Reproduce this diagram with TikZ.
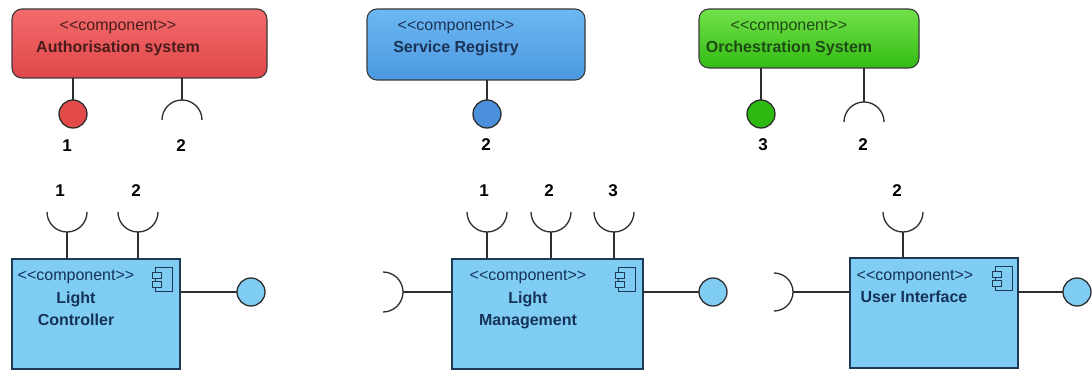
\documentclass[tikz,border=0pt]{standalone}
\usepackage{fontspec}
\setmainfont{Liberation Sans}
\definecolor{wirec}{HTML}{2E2E2E}
\definecolor{tborder}{HTML}{3A3A3A}
\definecolor{cborder}{HTML}{1F3A57}
\definecolor{cfill}{HTML}{7FCDF2}
\definecolor{ctext}{HTML}{16325A}
\definecolor{redtop}{HTML}{F36B6B}
\definecolor{redbot}{HTML}{E0474A}
\definecolor{redball}{HTML}{E34B4B}
\definecolor{redtext}{HTML}{4A1C1C}
\definecolor{bluetop}{HTML}{6CB8F2}
\definecolor{bluebot}{HTML}{4C98E0}
\definecolor{blueball}{HTML}{4A90DC}
\definecolor{bluetext}{HTML}{1C3358}
\definecolor{greentop}{HTML}{72E24A}
\definecolor{greenbot}{HTML}{33BB14}
\definecolor{greenball}{HTML}{2DB812}
\definecolor{greentext}{HTML}{1E4A14}
% stereotype text, with the angle brackets kept apart
\newcommand{\stereotypecomp}{{<}{<}component{>}{>}}
\begin{document}
\begin{tikzpicture}[x=1pt,y=1pt,
  wire/.style={draw=wirec, line width=1.3pt},
  topbox/.style={draw=tborder, line width=1.1pt, rounded corners=10pt,
    inner sep=0pt, outer sep=0pt, anchor=north west},
  compbox/.style={draw=cborder, fill=cfill, line width=1.1pt,
    inner sep=0pt, outer sep=0pt, anchor=north west},
  stereo/.style={font=\fontsize{16}{19}\selectfont, anchor=base, inner sep=0pt},
  cname/.style={font=\fontsize{16}{19}\selectfont\bfseries, anchor=base, inner sep=0pt},
  num/.style={font=\fontsize{17}{19}\selectfont\bfseries, anchor=base, inner sep=0pt, text=black},
  lolli/.style={circle, draw=wirec, line width=1.3pt, minimum size=28pt,
    inner sep=0pt, outer sep=0pt},
  compicon/.pic={
    \draw[draw=cborder, line width=0.9pt, fill=cfill] (-25,-8) rectangle (-8,-32);
    \draw[draw=cborder, line width=0.9pt, fill=cfill] (-28,-13) rectangle (-19,-19);
    \draw[draw=cborder, line width=0.9pt, fill=cfill] (-28,-22) rectangle (-19,-28);
  }]
\useasboundingbox (0,0) rectangle (1092,-371);

% ---------- provider components (top row) ----------
\node[topbox, top color=redtop, bottom color=redbot,
  minimum width=255pt, minimum height=69pt] (auth) at (12,-9) {};
\node[stereo, text=redtext] (authst) at (118,-31) {\stereotypecomp};
\node[cname, text=redtext] (authnm) at (118,-53) {Authorisation system};

\node[topbox, top color=bluetop, bottom color=bluebot,
  minimum width=218pt, minimum height=71pt] (sreg) at (367,-9) {};
\node[stereo, text=bluetext] (sregst) at (456,-31) {\stereotypecomp};
\node[cname, text=bluetext] (sregnm) at (456,-53) {Service Registry};

\node[topbox, top color=greentop, bottom color=greenbot,
  minimum width=220pt, minimum height=59pt] (orch) at (699,-9) {};
\node[stereo, text=greentext] (orchst) at (789,-31) {\stereotypecomp};
\node[cname, text=greentext] (orchnm) at (789,-53) {Orchestration System};

% provided interfaces (lollipops)
\node[lolli, fill=redball] (authp) at (73,-114) {};
\draw[wire] (auth.south -| authp) -- (authp);
\node[lolli, fill=blueball] (sregp) at (487,-114) {};
\draw[wire] (sreg.south -| sregp) -- (sregp);
\node[lolli, fill=greenball] (orchp) at (761,-114) {};
\draw[wire] (orch.south -| orchp) -- (orchp);

% required interfaces (sockets open downwards)
\coordinate (auths) at (182,-100);
\draw[wire] (auth.south -| auths) -- (auths);
\draw[wire] ([shift={(-20,-20)}]auths) arc[start angle=180, end angle=0, radius=20];
\coordinate (orchs) at (864,-102);
\draw[wire] (orch.south -| orchs) -- (orchs);
\draw[wire] ([shift={(-20,-20)}]orchs) arc[start angle=180, end angle=0, radius=20];

% interface numbers
\node[num] (authn1) at (67,-152) {1};
\node[num] (authn2) at (181,-152) {2};
\node[num] (sregn2) at (486,-151) {2};
\node[num] (orchn3) at (763,-151) {3};
\node[num] (orchn2) at (863,-151) {2};

% ---------- consumer components (bottom row) ----------
\node[compbox, minimum width=168pt, minimum height=110pt] (lc) at (12,-259) {};
\node[stereo, text=ctext] (lcst) at (76,-280) {\stereotypecomp};
\node[cname, text=ctext] (lcnm1) at (76,-303) {Light};
\node[cname, text=ctext] (lcnm2) at (76,-325) {Controller};
\pic (lcicon) at (lc.north east) {compicon};

\node[compbox, minimum width=191pt, minimum height=110pt] (lm) at (452,-259) {};
\node[stereo, text=ctext] (lmst) at (528,-280) {\stereotypecomp};
\node[cname, text=ctext] (lmnm1) at (528,-303) {Light};
\node[cname, text=ctext] (lmnm2) at (528,-325) {Management};
\pic (lmicon) at (lm.north east) {compicon};

\node[compbox, minimum width=168pt, minimum height=110pt] (ui) at (850,-258) {};
\node[stereo, text=ctext] (uist) at (915,-280) {\stereotypecomp};
\node[cname, text=ctext] (uinm) at (914,-302) {User Interface};
\pic (uiicon) at ([xshift=2pt]ui.north east) {compicon};

% required interfaces on top edges (sockets open upwards)
\foreach \s/\b/\x in {lcs1/lc/67, lcs2/lc/138, lms1/lm/487, lms2/lm/551, lms3/lm/614, uis2/ui/903}{
  \coordinate (\s) at (\x,-232);
  \draw[wire] (\b.north -| \s) -- (\s);
  \draw[wire] ([shift={(-20,20)}]\s) arc[start angle=180, end angle=360, radius=20];
}

% required interfaces on left edges (sockets open to the left)
\coordinate (lmsl) at (403,-292);
\draw[wire] (lm.west |- lmsl) -- (lmsl);
\draw[wire] ([shift={(-20,20)}]lmsl) arc[start angle=90, end angle=-90, radius=20];
\coordinate (uisl) at (793,-292);
\draw[wire] (ui.west |- uisl) -- (uisl);
\draw[wire] ([shift={(-19,19)}]uisl) arc[start angle=90, end angle=-90, radius=19];

% provided interfaces on right edges
\node[lolli, fill=cfill] (lcp) at (251,-292) {};
\draw[wire] (lc.east |- lcp) -- (lcp);
\node[lolli, fill=cfill] (lmp) at (713,-292) {};
\draw[wire] (lm.east |- lmp) -- (lmp);
\node[lolli, fill=cfill] (uip) at (1077,-292) {};
\draw[wire] (ui.east |- uip) -- (uip);

% interface numbers
\node[num] (lcn1) at (60,-197) {1};
\node[num] (lcn2) at (136,-197) {2};
\node[num] (lmn1) at (484,-197) {1};
\node[num] (lmn2) at (549,-197) {2};
\node[num] (lmn3) at (613,-197) {3};
\node[num] (uin2) at (897,-197) {2};
\end{tikzpicture}
\end{document}
